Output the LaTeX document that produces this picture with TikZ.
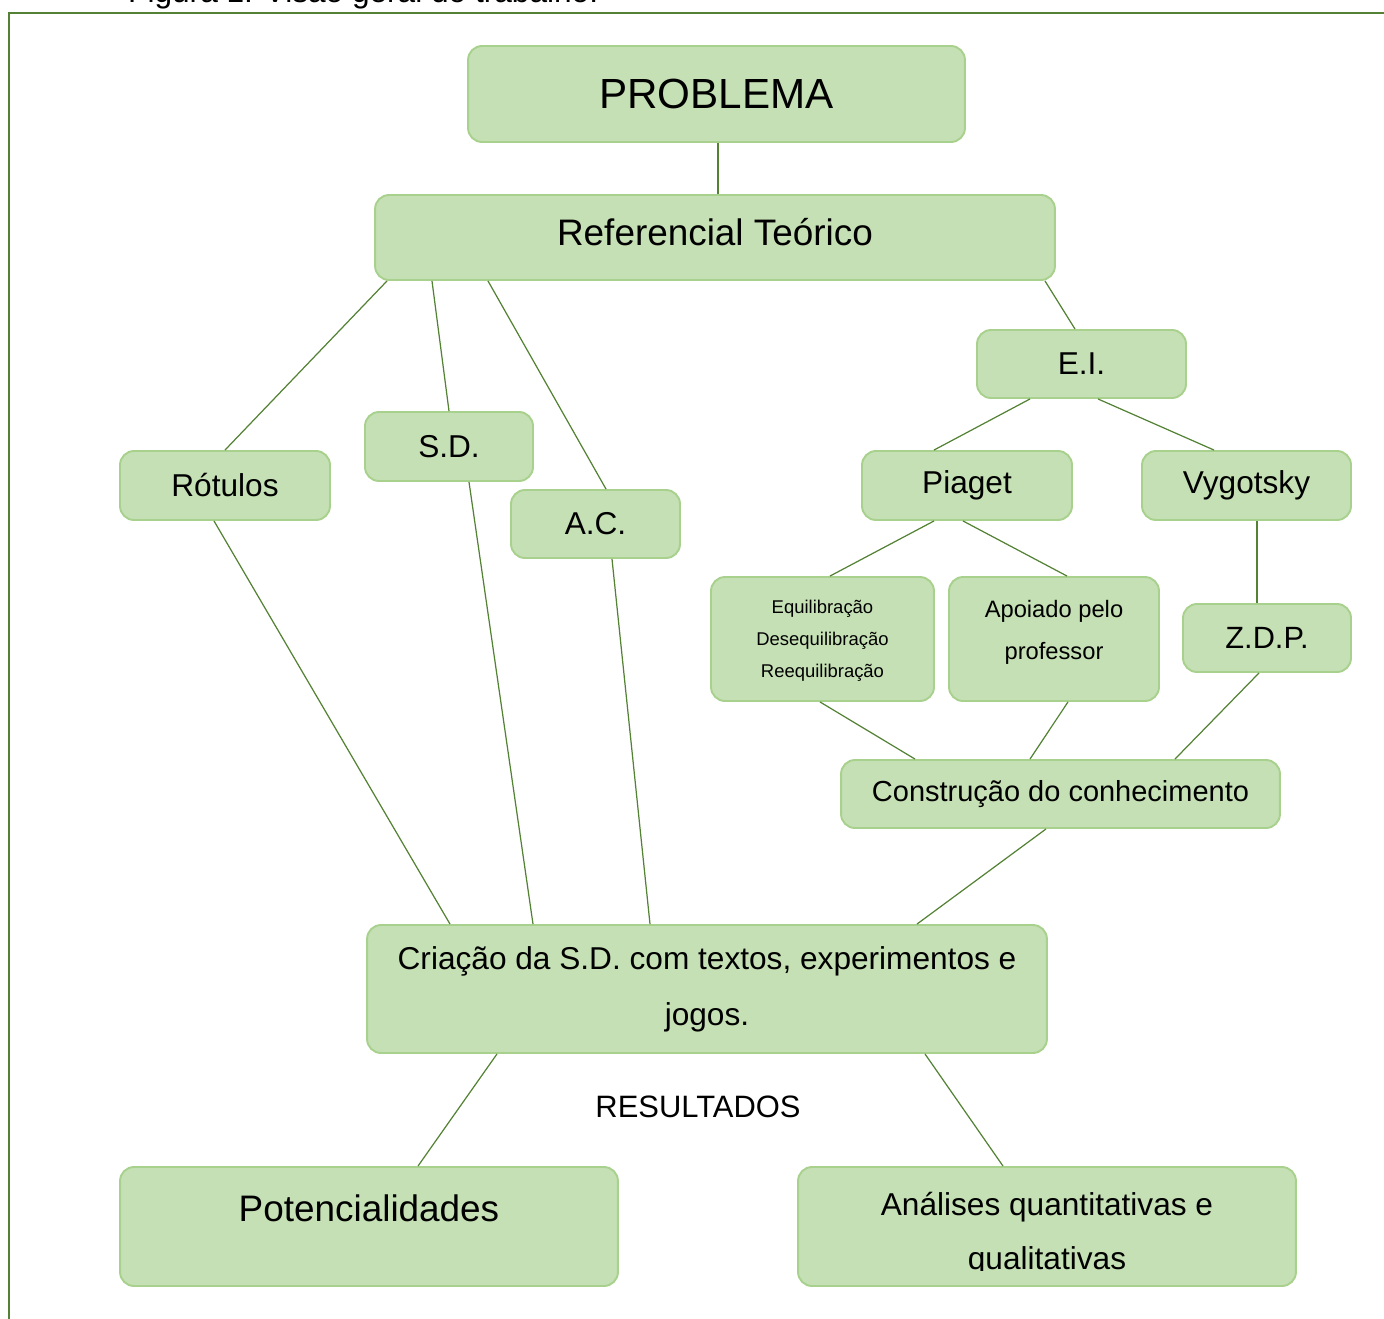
\documentclass[tikz,border=0pt]{standalone}
\usepackage{fontspec}
\setmainfont{Liberation Sans}
\usepackage{xcolor}
\definecolor{boxfill}{HTML}{C5E0B4}
\definecolor{boxline}{HTML}{A9D18E}
\definecolor{linkgreen}{HTML}{548235}
\definecolor{framegreen}{HTML}{538135}
\newcommand{\fs}[2]{\fontsize{#1}{#2}\selectfont}

\begin{document}
\begin{tikzpicture}[
    x=0.02cm, y=-0.02cm,
    box/.style={draw=boxline, fill=boxfill, line width=1.1pt, rounded corners=0.28cm, align=center, inner sep=0pt},
    link/.style={draw=linkgreen, line width=0.7pt}
]
\useasboundingbox (0,0) rectangle (1384,1319);
\clip (0,0) rectangle (1384,1319);

\node[anchor=base west, font=\fs{18}{22}] (cap) at (122,2.5) {Figura 1: Visão geral do trabalho.};
\draw[draw=framegreen, line width=1.5pt] (9,13) rectangle (1420,1360);

\node[box, minimum width=9.94cm, minimum height=1.92cm, font=\fs{24}{29}] (prob) at (716.5,94) {PROBLEMA};
\node[box, minimum width=13.6cm, minimum height=1.7cm, font=\fs{21}{25}, text height=0.55cm, text depth=0.25cm] (ref) at (715,237.5) {Referencial Teórico};
\node[box, minimum width=4.18cm, minimum height=1.36cm, font=\fs{18}{22}] (ei) at (1081.5,364) {E.I.};
\node[box, minimum width=4.2cm, minimum height=1.38cm, font=\fs{18}{22}] (rot) at (225,485.5) {Rótulos};
\node[box, minimum width=3.36cm, minimum height=1.38cm, font=\fs{18}{22}] (sd) at (449,446.5) {S.D.};
\node[box, minimum width=3.38cm, minimum height=1.36cm, font=\fs{18}{22}] (ac) at (595.5,524) {A.C.};
\node[box, minimum width=4.2cm, minimum height=1.38cm, font=\fs{18}{22}] (pia) at (967,485.5) {Piaget};
\node[box, minimum width=4.18cm, minimum height=1.38cm, font=\fs{18}{22}] (vyg) at (1246.5,485.5) {Vygotsky};
\node[box, minimum width=4.46cm, minimum height=2.48cm, font=\fs{10.5}{18.1}, text depth=0pt] (equ) at (822.5,639) {Equilibração\\Desequilibração\\Reequilibração};
\node[box, minimum width=4.2cm, minimum height=2.48cm, font=\fs{13.5}{23.8}, text depth=0.38cm] (apo) at (1054,639) {Apoiado pelo\\professor};
\node[box, minimum width=3.36cm, minimum height=1.36cm, font=\fs{17.5}{21}] (zdp) at (1267,638) {Z.D.P.};
\node[box, minimum width=8.78cm, minimum height=1.36cm, font=\fs{16.5}{20}] (con) at (1060.5,794) {Construção do conhecimento};
\node[box, minimum width=13.6cm, minimum height=2.56cm, font=\fs{18}{31.8}] (cri) at (707,989) {Criação da S.D. com textos, experimentos e\\jogos.};
\node[font=\fs{17.6}{21}] (res) at (698,1107) {RESULTADOS};
\node[box, minimum width=9.96cm, minimum height=2.38cm, font=\fs{21}{25}, text height=0.5cm, text depth=0.69cm] (pot) at (369,1226.5) {Potencialidades};
\node[box, minimum width=9.96cm, minimum height=2.38cm] (ana) at (1047,1226.5) {};
\begin{scope}
  \clip (ana.west |- 0,1270) rectangle (ana.north east);
  \node[align=center, font=\fs{18}{30.6}] (anatxt) at (1047,1234) {Análises quantitativas e\\qualitativas};
\end{scope}

\draw[link] (prob.south -| 718,0) -- (ref.north -| 718,0);
\draw[link] (ref.south -| 1045,0) -- (ei.north -| 1075,0);
\draw[link] (ref.south -| 387,0) -- (rot.north);
\draw[link] (ref.south -| 432,0) -- (sd.north);
\draw[link] (ref.south -| 488,0) -- (ac.north -| 606,0);
\draw[link] (ei.south -| 1030,0) -- (pia.north -| 934,0);
\draw[link] (ei.south -| 1098,0) -- (vyg.north -| 1214,0);
\draw[link] (pia.south -| 934,0) -- (equ.north -| 830,0);
\draw[link] (pia.south -| 963,0) -- (apo.north -| 1067,0);
\draw[link] (vyg.south -| 1257,0) -- (zdp.north -| 1257,0);
\draw[link] (equ.south -| 820,0) -- (con.north -| 915,0);
\draw[link] (apo.south -| 1068,0) -- (con.north -| 1030,0);
\draw[link] (zdp.south -| 1259,0) -- (con.north -| 1175,0);
\draw[link] (con.south -| 1046,0) -- (cri.north -| 917,0);
\draw[link] (rot.south -| 214,0) -- (cri.north -| 450,0);
\draw[link] (sd.south -| 469,0) -- (cri.north -| 533,0);
\draw[link] (ac.south -| 612,0) -- (cri.north -| 650,0);
\draw[link] (cri.south -| 497,0) -- (pot.north -| 418,0);
\draw[link] (cri.south -| 925,0) -- (ana.north -| 1003,0);
\end{tikzpicture}
\end{document}
